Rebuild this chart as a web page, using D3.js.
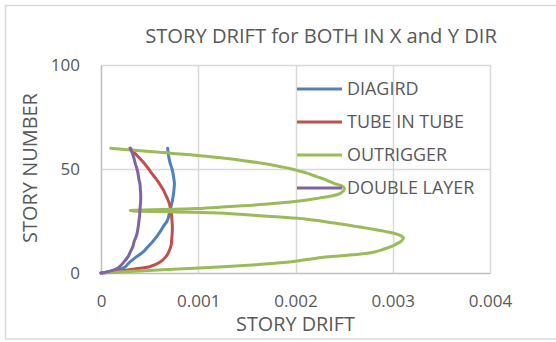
<!DOCTYPE html>
<html><head><meta charset="utf-8">
<script src="https://cdn.jsdelivr.net/npm/d3@7"></script>
<style>
body{margin:0;background:#fff}
text{font-family:"Open Sans",sans-serif;fill:#595959}
</style>
</head><body><svg id="c" width="556" height="342"></svg>
<script>
const chartTitle = "STORY DRIFT for BOTH IN X and Y DIR";
const xTitle = "STORY DRIFT";
const yTitle = "STORY NUMBER";
const seriesNames = ["DIAGIRD", "TUBE IN TUBE", "OUTRIGGER", "DOUBLE LAYER"];
const seriesColors = ["#4F81BD", "#C0504D", "#9BBB59", "#8064A2"];
const xTicks = [0, 0.001, 0.002, 0.003, 0.004];
const xTickLabels = ["0", "0.001", "0.002", "0.003", "0.004"];
const yTicks = [0, 50, 100];
const yTickLabels = ["0", "50", "100"];

const stories = [0,1,2,3,5,8,10,13,15,18,20,23,25,28,30,33,35,38,40,43,45,48,50,53,55,58,60];
const diagrid = [0,0.00012,0.00021,0.00025,0.00029,0.00037,0.00043,0.00049,0.00053,0.00058,0.00061,0.00065,0.00068,0.0007,0.00071,0.000725,0.000735,0.000745,0.00075,0.000755,0.00075,0.00074,0.00073,0.00071,0.0007,0.00069,0.000685];
const tubeInTube = [0,0.0002,0.00036,0.0005,0.0006,0.00067,0.000695,0.00072,0.000725,0.00073,0.000733,0.000733,0.00073,0.000725,0.000718,0.000705,0.00069,0.00066,0.00064,0.0006,0.00057,0.00052,0.00049,0.00044,0.0004,0.00034,0.0003];
const doubleLayer = [0,0.0001,0.00016,0.00019,0.00023,0.00028,0.0003,0.00033,0.00034,0.000365,0.000375,0.000385,0.00039,0.000398,0.0004,0.000405,0.000408,0.000408,0.000405,0.0004,0.00039,0.00038,0.00037,0.00035,0.00034,0.00032,0.0003];

const outriggerStories = [0,1,2,3,4,5,6,7,8,9,10,11,12,13,14,15,16,17,18,19,20,21,22,23,24,25,26,27,28,29,30,31,32,33,34,35,36,37,38,39,40,41,42,43,44,45,46,47,48,49,50,51,52,53,54,55,56,57,58,59,60];
const outrigger = [0,0.0004,0.00085,0.00126,0.0016,0.00188,0.00205,0.0022,0.0024,0.00265,0.0028,0.00288,0.00294,0.003,0.00304,0.00308,0.0031,0.00311,0.00308,0.00302,0.00292,0.0028,0.00268,0.00255,0.0024,0.00226,0.0021,0.0018,0.0015,0.00115,0.0003,0.00098,0.00133,0.00168,0.00192,0.0021,0.00224,0.00237,0.00245,0.00248,0.0025,0.0025,0.00247,0.0024,0.00235,0.0023,0.00224,0.00218,0.00212,0.00204,0.00196,0.00186,0.00175,0.00162,0.00147,0.0013,0.0011,0.00088,0.0006,0.00034,0.0001];

const seriesData = [
  stories.map((s,i)=>({y:s, x:diagrid[i]})),
  stories.map((s,i)=>({y:s, x:tubeInTube[i]})),
  outriggerStories.map((s,i)=>({y:s, x:outrigger[i]})),
  stories.map((s,i)=>({y:s, x:doubleLayer[i]}))
];

const svg = d3.select("#c");
const W = 556, H = 342;
const plot = {left:101, right:490, top:65, bottom:273};

const x = d3.scaleLinear().domain([0, 0.004]).range([plot.left, plot.right]);
const y = d3.scaleLinear().domain([0, 100]).range([plot.bottom, plot.top]);

function fit(sel, target){
  const n = sel.node();
  const fs = parseFloat(sel.style("font-size"));
  const w = n.getComputedTextLength();
  sel.style("font-size", (fs*target/w).toFixed(2)+"px");
}

// chart border
svg.append("rect").attr("x",5.5).attr("y",5.5).attr("width",570).attr("height",333.5)
  .attr("fill","#fff").attr("stroke","#d9d9d9").attr("stroke-width",1.5);

// grid
svg.append("g").selectAll("line").data(xTicks.slice(1)).join("line")
  .attr("x1",d=>Math.round(x(d))+0.5).attr("x2",d=>Math.round(x(d))+0.5)
  .attr("y1",plot.top).attr("y2",plot.bottom).attr("stroke","#d9d9d9").attr("stroke-width",1.5);
svg.append("g").selectAll("line").data(yTicks.slice(1)).join("line")
  .attr("y1",d=>Math.round(y(d))+0.5).attr("y2",d=>Math.round(y(d))+0.5)
  .attr("x1",plot.left).attr("x2",plot.right).attr("stroke","#d9d9d9").attr("stroke-width",1.5);

// axes
const xAxis = d3.axisBottom(x).tickValues(xTicks).tickFormat((d,i)=>xTickLabels[i]).tickSize(0).tickPadding(0);
const gx = svg.append("g").attr("transform",`translate(0,${plot.bottom})`).call(xAxis);
gx.select(".domain").attr("stroke","#bfbfbf").attr("stroke-width",1.5);
gx.selectAll("text").attr("y",34).attr("dy",0).style("font-size","17px").style("fill","#595959").style("font-family","'Open Sans',sans-serif");

const yAxis = d3.axisLeft(y).tickValues(yTicks).tickFormat((d,i)=>yTickLabels[i]).tickSize(0).tickPadding(0);
const gy = svg.append("g").attr("transform",`translate(${plot.left},0)`).call(yAxis);
gy.select(".domain").attr("stroke","#bfbfbf").attr("stroke-width",1.5);
gy.selectAll("text").attr("x",-21).attr("dy","0.35em").style("font-size","17px").style("fill","#595959").style("font-family","'Open Sans',sans-serif");

// lines
const line = d3.line().x(d=>x(d.x)).y(d=>y(d.y)).curve(d3.curveCatmullRom.alpha(0.5));
svg.append("g").selectAll("path").data(seriesData).join("path")
  .attr("d", line).attr("fill","none")
  .attr("stroke",(d,i)=>seriesColors[i]).attr("stroke-width",3)
  .attr("stroke-linejoin","round").attr("stroke-linecap","round");

// legend
const legY = [89,122,155,188];
const lg = svg.append("g");
seriesNames.forEach((n,i)=>{
  lg.append("line").attr("x1",297).attr("x2",342).attr("y1",legY[i]).attr("y2",legY[i])
    .attr("stroke",seriesColors[i]).attr("stroke-width",3);
});
const legTexts = lg.selectAll("text.leg").data(seriesNames).join("text").attr("class","leg")
  .attr("x",347).attr("y",(d,i)=>legY[i]).attr("dy","0.36em")
  .style("font-size","17px").text(d=>d);
fit(d3.select(legTexts.nodes()[1]), 117);
const legFs = d3.select(legTexts.nodes()[1]).style("font-size");
legTexts.style("font-size", legFs);

// titles
const t = svg.append("text").attr("x",321).attr("y",43).attr("text-anchor","middle")
  .style("font-size","20px").text(chartTitle);
fit(t, 352);
const xt = svg.append("text").attr("x",295.5).attr("y",331).attr("text-anchor","middle")
  .style("font-size","18px").text(xTitle);
fit(xt, 119);
const yt = svg.append("text").attr("transform","translate(37,168) rotate(-90)").attr("text-anchor","middle")
  .style("font-size","18px").text(yTitle);
fit(yt, 150);
</script>
</body></html>
